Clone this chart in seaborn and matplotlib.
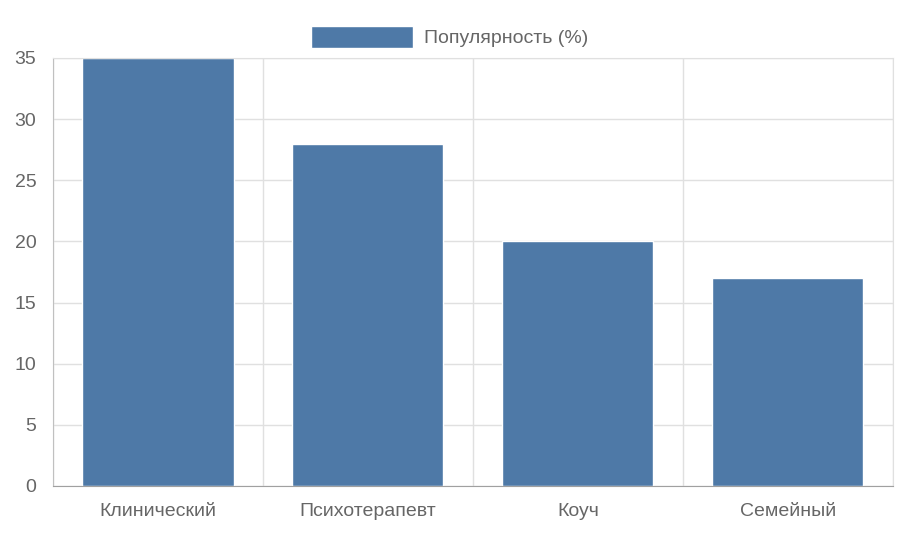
import matplotlib
matplotlib.use("Agg")
import matplotlib.pyplot as plt
import seaborn as sns
import pandas as pd
from matplotlib.patches import Patch

categories = ["Клинический", "Психотерапевт", "Коуч", "Семейный"]
values = [35, 28, 20, 17]
series_name = "Популярность (%)"

sns.set_style("white")
plt.rcParams['font.family'] = ['Liberation Sans', 'DejaVu Sans']

df = pd.DataFrame({"cat": categories, "val": values})
fig = plt.figure(figsize=(9, 5.4), dpi=100)
ax = fig.add_axes([0.0589, 0.1, 0.933, 0.7926])
sns.barplot(data=df, x="cat", y="val", color="#4e79a7", saturation=1, width=0.72, ax=ax)
ax.set_xlim(-0.5, 3.5)
ax.set_ylim(0, 35)
ax.set_yticks(range(0, 36, 5))
ax.set_xticks([-0.5, 0.5, 1.5, 2.5, 3.5], minor=True)
ax.set_xlabel("")
ax.set_ylabel("")
ax.grid(axis="y", which="major", color="#e0e0e0", lw=1)
ax.grid(axis="x", which="minor", color="#e0e0e0", lw=1)
ax.set_axisbelow(True)
ax.tick_params(axis="x", which="major", length=0, pad=12, labelsize=14, labelcolor="#666666")
ax.tick_params(axis="x", which="minor", length=16, color="#c0c0c0", width=1)
ax.tick_params(axis="y", length=8, color="#e0e0e0", labelsize=14, labelcolor="#666666", pad=4)
for s in ["top", "right"]:
    ax.spines[s].set_color("#e0e0e0")
ax.spines["left"].set_color("#c0c0c0")
ax.spines["bottom"].set_color("#a0a0a0")
leg = fig.legend(handles=[Patch(facecolor="#4e79a7", label=series_name)], loc="upper center",
                 bbox_to_anchor=(0.5, 0.985), frameon=False, fontsize=14,
                 handlelength=5.2, handleheight=1.4, handletextpad=0.6)
for t in leg.get_texts():
    t.set_color("#666666")
fig.savefig("out.png", dpi=100)
